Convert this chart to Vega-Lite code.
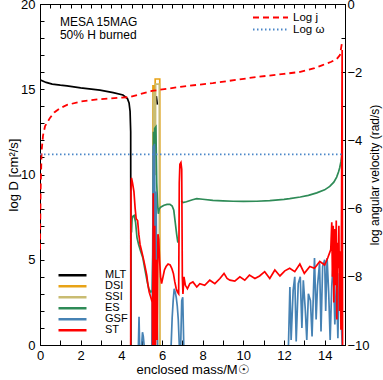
{
  "$schema": "https://vega.github.io/schema/vega-lite/v6.json",
  "width": 305,
  "height": 341,
  "autosize": {"type": "none"},
  "padding": {"left": 40, "top": 4, "right": 38, "bottom": 35},
  "config": {
    "font": "Liberation Sans",
    "view": {"stroke": "black", "strokeWidth": 1},
    "axis": {"domainColor": "black", "tickColor": "black", "labelColor": "black", "titleColor": "black", "labelFontSize": 13, "titleFontSize": 13, "titleFontWeight": "normal", "grid": false, "labelOverlap": false, "labelFlush": false},
    "legend": {"padding": 0, "labelColor": "black", "labelFont": "Liberation Sans"}
  },
  "datasets": {
    "D": [
      {"series": "MLT", "seg": "a", "m": 0, "v": 15.55}, {"series": "MLT", "seg": "a", "m": 0.3, "v": 15.4}, {"series": "MLT", "seg": "a", "m": 0.6, "v": 15.3}, {"series": "MLT", "seg": "a", "m": 1.0, "v": 15.24}, {"series": "MLT", "seg": "a", "m": 1.33, "v": 15.2}, {"series": "MLT", "seg": "a", "m": 2.0, "v": 15.08}, {"series": "MLT", "seg": "a", "m": 2.95, "v": 14.95}, {"series": "MLT", "seg": "a", "m": 3.6, "v": 14.8}, {"series": "MLT", "seg": "a", "m": 4.08, "v": 14.66}, {"series": "MLT", "seg": "a", "m": 4.3, "v": 14.45}, {"series": "MLT", "seg": "a", "m": 4.38, "v": 14.2}, {"series": "MLT", "seg": "a", "m": 4.43, "v": 13.7}, {"series": "MLT", "seg": "a", "m": 4.46, "v": 12.5}, {"series": "MLT", "seg": "a", "m": 4.47, "v": 0},
      {"series": "MLT", "seg": "b", "m": 5.72, "v": 14.6}, {"series": "MLT", "seg": "b", "m": 5.75, "v": 14.3}, {"series": "MLT", "seg": "b", "m": 5.77, "v": 14.1},
      {"series": "DSI", "seg": "a", "m": 5.55, "v": 0}, {"series": "DSI", "seg": "a", "m": 5.555, "v": 15.2}, {"series": "DSI", "seg": "a", "m": 5.625, "v": 15.2}, {"series": "DSI", "seg": "a", "m": 5.63, "v": 11}, {"series": "DSI", "seg": "a", "m": 5.66, "v": 11}, {"series": "DSI", "seg": "a", "m": 5.665, "v": 15.6}, {"series": "DSI", "seg": "a", "m": 5.89, "v": 15.6}, {"series": "DSI", "seg": "a", "m": 5.895, "v": 0},
      {"series": "SSI", "seg": "a", "m": 5.57, "v": 0}, {"series": "SSI", "seg": "a", "m": 5.575, "v": 14.9}, {"series": "SSI", "seg": "a", "m": 5.61, "v": 14.9}, {"series": "SSI", "seg": "a", "m": 5.615, "v": 10}, {"series": "SSI", "seg": "a", "m": 5.68, "v": 10}, {"series": "SSI", "seg": "a", "m": 5.685, "v": 15.3}, {"series": "SSI", "seg": "a", "m": 5.87, "v": 15.3}, {"series": "SSI", "seg": "a", "m": 5.875, "v": 0},
      {"series": "ES", "seg": "a", "m": 4.5, "v": 6.6}, {"series": "ES", "seg": "a", "m": 4.53, "v": 7.4}, {"series": "ES", "seg": "a", "m": 4.57, "v": 7.55}, {"series": "ES", "seg": "a", "m": 4.63, "v": 7.6}, {"series": "ES", "seg": "a", "m": 4.7, "v": 7.2}, {"series": "ES", "seg": "a", "m": 4.77, "v": 6.3}, {"series": "ES", "seg": "a", "m": 4.85, "v": 5.9}, {"series": "ES", "seg": "a", "m": 4.95, "v": 5.5}, {"series": "ES", "seg": "a", "m": 5.06, "v": 5.1}, {"series": "ES", "seg": "a", "m": 5.15, "v": 4.5}, {"series": "ES", "seg": "a", "m": 5.26, "v": 3.8}, {"series": "ES", "seg": "a", "m": 5.35, "v": 3.3}, {"series": "ES", "seg": "a", "m": 5.45, "v": 3.1}, {"series": "ES", "seg": "a", "m": 5.52, "v": 3.2}, {"series": "ES", "seg": "a", "m": 5.56, "v": 6}, {"series": "ES", "seg": "a", "m": 5.58, "v": 12.5}, {"series": "ES", "seg": "a", "m": 5.6, "v": 9}, {"series": "ES", "seg": "a", "m": 5.64, "v": 12.7}, {"series": "ES", "seg": "a", "m": 5.7, "v": 12.8}, {"series": "ES", "seg": "a", "m": 5.74, "v": 9.5}, {"series": "ES", "seg": "a", "m": 5.78, "v": 8.3}, {"series": "ES", "seg": "a", "m": 5.82, "v": 7.7}, {"series": "ES", "seg": "a", "m": 5.87, "v": 8.0}, {"series": "ES", "seg": "a", "m": 5.95, "v": 8.1}, {"series": "ES", "seg": "a", "m": 6.1, "v": 8.2}, {"series": "ES", "seg": "a", "m": 6.25, "v": 8.25}, {"series": "ES", "seg": "a", "m": 6.39, "v": 8.25}, {"series": "ES", "seg": "a", "m": 6.5, "v": 8.15}, {"series": "ES", "seg": "a", "m": 6.58, "v": 7.9}, {"series": "ES", "seg": "a", "m": 6.65, "v": 7.2}, {"series": "ES", "seg": "a", "m": 6.72, "v": 6.5}, {"series": "ES", "seg": "a", "m": 6.78, "v": 6.0},
      {"series": "ES", "seg": "b", "m": 6.95, "v": 8.45}, {"series": "ES", "seg": "b", "m": 7.03, "v": 8.35}, {"series": "ES", "seg": "b", "m": 7.2, "v": 8.4}, {"series": "ES", "seg": "b", "m": 7.5, "v": 8.52}, {"series": "ES", "seg": "b", "m": 7.71, "v": 8.58}, {"series": "ES", "seg": "b", "m": 8.0, "v": 8.55}, {"series": "ES", "seg": "b", "m": 8.5, "v": 8.48}, {"series": "ES", "seg": "b", "m": 9.0, "v": 8.45}, {"series": "ES", "seg": "b", "m": 9.5, "v": 8.43}, {"series": "ES", "seg": "b", "m": 10.0, "v": 8.42}, {"series": "ES", "seg": "b", "m": 10.66, "v": 8.43}, {"series": "ES", "seg": "b", "m": 11.3, "v": 8.47}, {"series": "ES", "seg": "b", "m": 12.0, "v": 8.54}, {"series": "ES", "seg": "b", "m": 12.28, "v": 8.58}, {"series": "ES", "seg": "b", "m": 12.8, "v": 8.68}, {"series": "ES", "seg": "b", "m": 13.2, "v": 8.78}, {"series": "ES", "seg": "b", "m": 13.61, "v": 8.92}, {"series": "ES", "seg": "b", "m": 14.0, "v": 9.1}, {"series": "ES", "seg": "b", "m": 14.25, "v": 9.3}, {"series": "ES", "seg": "b", "m": 14.45, "v": 9.55}, {"series": "ES", "seg": "b", "m": 14.59, "v": 9.85}, {"series": "ES", "seg": "b", "m": 14.68, "v": 10.15}, {"series": "ES", "seg": "b", "m": 14.74, "v": 10.4}, {"series": "ES", "seg": "b", "m": 14.8, "v": 10.75}, {"series": "ES", "seg": "b", "m": 14.84, "v": 11.1}, {"series": "ES", "seg": "b", "m": 14.86, "v": 11.3},
      {"series": "GSF", "seg": "a", "m": 4.84, "v": 0}, {"series": "GSF", "seg": "a", "m": 4.87, "v": 1.65}, {"series": "GSF", "seg": "a", "m": 4.9, "v": 0},
      {"series": "GSF", "seg": "b", "m": 5.0, "v": 0}, {"series": "GSF", "seg": "b", "m": 5.04, "v": 0.75}, {"series": "GSF", "seg": "b", "m": 5.08, "v": 0.5}, {"series": "GSF", "seg": "b", "m": 5.12, "v": 0},
      {"series": "GSF", "seg": "c", "m": 5.5, "v": 0}, {"series": "GSF", "seg": "c", "m": 5.54, "v": 5}, {"series": "GSF", "seg": "c", "m": 5.57, "v": 11.7}, {"series": "GSF", "seg": "c", "m": 5.6, "v": 7}, {"series": "GSF", "seg": "c", "m": 5.63, "v": 11.8}, {"series": "GSF", "seg": "c", "m": 5.67, "v": 4}, {"series": "GSF", "seg": "c", "m": 5.71, "v": 9}, {"series": "GSF", "seg": "c", "m": 5.75, "v": 2}, {"series": "GSF", "seg": "c", "m": 5.78, "v": 0},
      {"series": "GSF", "seg": "d", "m": 6.45, "v": 0}, {"series": "GSF", "seg": "d", "m": 6.5, "v": 1.6}, {"series": "GSF", "seg": "d", "m": 6.55, "v": 2.6}, {"series": "GSF", "seg": "d", "m": 6.6, "v": 3.3}, {"series": "GSF", "seg": "d", "m": 6.65, "v": 3.1}, {"series": "GSF", "seg": "d", "m": 6.7, "v": 2.8}, {"series": "GSF", "seg": "d", "m": 6.75, "v": 2.3}, {"series": "GSF", "seg": "d", "m": 6.8, "v": 1.5}, {"series": "GSF", "seg": "d", "m": 6.85, "v": 0},
      {"series": "GSF", "seg": "e", "m": 6.92, "v": 0}, {"series": "GSF", "seg": "e", "m": 6.97, "v": 2.6}, {"series": "GSF", "seg": "e", "m": 7.02, "v": 2.8}, {"series": "GSF", "seg": "e", "m": 7.07, "v": 0},
      {"series": "GSF", "seg": "f", "m": 12.22, "v": 0}, {"series": "GSF", "seg": "f", "m": 12.29, "v": 3.4}, {"series": "GSF", "seg": "f", "m": 12.35, "v": 0.3}, {"series": "GSF", "seg": "f", "m": 12.45, "v": 3.2}, {"series": "GSF", "seg": "f", "m": 12.53, "v": 4.0}, {"series": "GSF", "seg": "f", "m": 12.6, "v": 0.2}, {"series": "GSF", "seg": "f", "m": 12.7, "v": 3.6}, {"series": "GSF", "seg": "f", "m": 12.8, "v": 4.0}, {"series": "GSF", "seg": "f", "m": 12.88, "v": 1.0}, {"series": "GSF", "seg": "f", "m": 12.95, "v": 3.8}, {"series": "GSF", "seg": "f", "m": 13.05, "v": 2.0}, {"series": "GSF", "seg": "f", "m": 13.12, "v": 0.3}, {"series": "GSF", "seg": "f", "m": 13.2, "v": 3.0}, {"series": "GSF", "seg": "f", "m": 13.3, "v": 2.6}, {"series": "GSF", "seg": "f", "m": 13.38, "v": 0.5}, {"series": "GSF", "seg": "f", "m": 13.5, "v": 5.1}, {"series": "GSF", "seg": "f", "m": 13.58, "v": 1.5}, {"series": "GSF", "seg": "f", "m": 13.65, "v": 3.5}, {"series": "GSF", "seg": "f", "m": 13.75, "v": 4.8}, {"series": "GSF", "seg": "f", "m": 13.82, "v": 0.8}, {"series": "GSF", "seg": "f", "m": 13.9, "v": 4.6}, {"series": "GSF", "seg": "f", "m": 14.0, "v": 5.0}, {"series": "GSF", "seg": "f", "m": 14.05, "v": 2.0}, {"series": "GSF", "seg": "f", "m": 14.12, "v": 5.1}, {"series": "GSF", "seg": "f", "m": 14.2, "v": 3.0}, {"series": "GSF", "seg": "f", "m": 14.27, "v": 0.3}, {"series": "GSF", "seg": "f", "m": 14.35, "v": 3.5}, {"series": "GSF", "seg": "f", "m": 14.42, "v": 4.8}, {"series": "GSF", "seg": "f", "m": 14.5, "v": 1.2}, {"series": "GSF", "seg": "f", "m": 14.58, "v": 3.8}, {"series": "GSF", "seg": "f", "m": 14.65, "v": 0.4}, {"series": "GSF", "seg": "f", "m": 14.72, "v": 4.2}, {"series": "GSF", "seg": "f", "m": 14.8, "v": 2.0}, {"series": "GSF", "seg": "f", "m": 14.86, "v": 0},
      {"series": "ST", "seg": "a", "m": 4.46, "v": 0}, {"series": "ST", "seg": "a", "m": 4.47, "v": 9.0}, {"series": "ST", "seg": "a", "m": 4.5, "v": 9.8}, {"series": "ST", "seg": "a", "m": 4.55, "v": 9.5}, {"series": "ST", "seg": "a", "m": 4.62, "v": 9.0}, {"series": "ST", "seg": "a", "m": 4.68, "v": 8.0}, {"series": "ST", "seg": "a", "m": 4.73, "v": 7.4}, {"series": "ST", "seg": "a", "m": 4.8, "v": 7.3}, {"series": "ST", "seg": "a", "m": 4.86, "v": 6.5}, {"series": "ST", "seg": "a", "m": 4.92, "v": 5.9}, {"series": "ST", "seg": "a", "m": 5.0, "v": 5.5}, {"series": "ST", "seg": "a", "m": 5.06, "v": 5.2}, {"series": "ST", "seg": "a", "m": 5.15, "v": 4.7}, {"series": "ST", "seg": "a", "m": 5.25, "v": 4.1}, {"series": "ST", "seg": "a", "m": 5.3, "v": 3.6}, {"series": "ST", "seg": "a", "m": 5.37, "v": 3.1}, {"series": "ST", "seg": "a", "m": 5.45, "v": 2.8}, {"series": "ST", "seg": "a", "m": 5.52, "v": 2.5}, {"series": "ST", "seg": "a", "m": 5.54, "v": 0}, {"series": "ST", "seg": "a", "m": 5.57, "v": 8.9}, {"series": "ST", "seg": "a", "m": 5.6, "v": 0}, {"series": "ST", "seg": "a", "m": 5.64, "v": 7}, {"series": "ST", "seg": "a", "m": 5.68, "v": 0}, {"series": "ST", "seg": "a", "m": 5.72, "v": 5}, {"series": "ST", "seg": "a", "m": 5.76, "v": 0.3}, {"series": "ST", "seg": "a", "m": 5.8, "v": 6.5}, {"series": "ST", "seg": "a", "m": 5.84, "v": 6.2}, {"series": "ST", "seg": "a", "m": 5.88, "v": 5.0}, {"series": "ST", "seg": "a", "m": 5.93, "v": 4.0}, {"series": "ST", "seg": "a", "m": 5.98, "v": 3.6}, {"series": "ST", "seg": "a", "m": 6.05, "v": 4.0}, {"series": "ST", "seg": "a", "m": 6.12, "v": 4.4}, {"series": "ST", "seg": "a", "m": 6.2, "v": 4.6}, {"series": "ST", "seg": "a", "m": 6.3, "v": 4.75}, {"series": "ST", "seg": "a", "m": 6.4, "v": 4.7}, {"series": "ST", "seg": "a", "m": 6.48, "v": 4.5}, {"series": "ST", "seg": "a", "m": 6.56, "v": 4.2}, {"series": "ST", "seg": "a", "m": 6.63, "v": 3.7}, {"series": "ST", "seg": "a", "m": 6.7, "v": 3.3}, {"series": "ST", "seg": "a", "m": 6.76, "v": 3.1}, {"series": "ST", "seg": "a", "m": 6.82, "v": 3.0}, {"series": "ST", "seg": "a", "m": 6.85, "v": 9.5}, {"series": "ST", "seg": "a", "m": 6.88, "v": 10.6}, {"series": "ST", "seg": "a", "m": 6.93, "v": 10.7}, {"series": "ST", "seg": "a", "m": 6.97, "v": 10.3}, {"series": "ST", "seg": "a", "m": 7.0, "v": 4.0}, {"series": "ST", "seg": "a", "m": 7.03, "v": 3.0}, {"series": "ST", "seg": "a", "m": 7.08, "v": 4.0}, {"series": "ST", "seg": "a", "m": 7.15, "v": 3.5}, {"series": "ST", "seg": "a", "m": 7.25, "v": 3.3}, {"series": "ST", "seg": "a", "m": 7.37, "v": 3.6}, {"series": "ST", "seg": "a", "m": 7.52, "v": 3.7}, {"series": "ST", "seg": "a", "m": 7.71, "v": 3.4}, {"series": "ST", "seg": "a", "m": 7.86, "v": 3.6}, {"series": "ST", "seg": "a", "m": 8.1, "v": 3.5}, {"series": "ST", "seg": "a", "m": 8.35, "v": 3.8}, {"series": "ST", "seg": "a", "m": 8.6, "v": 3.6}, {"series": "ST", "seg": "a", "m": 8.85, "v": 3.9}, {"series": "ST", "seg": "a", "m": 9.05, "v": 4.2}, {"series": "ST", "seg": "a", "m": 9.2, "v": 3.9}, {"series": "ST", "seg": "a", "m": 9.34, "v": 3.8}, {"series": "ST", "seg": "a", "m": 9.58, "v": 3.75}, {"series": "ST", "seg": "a", "m": 9.83, "v": 4.0}, {"series": "ST", "seg": "a", "m": 10.07, "v": 3.8}, {"series": "ST", "seg": "a", "m": 10.3, "v": 4.1}, {"series": "ST", "seg": "a", "m": 10.57, "v": 3.9}, {"series": "ST", "seg": "a", "m": 10.8, "v": 4.05}, {"series": "ST", "seg": "a", "m": 11.05, "v": 4.3}, {"series": "ST", "seg": "a", "m": 11.3, "v": 3.9}, {"series": "ST", "seg": "a", "m": 11.55, "v": 4.4}, {"series": "ST", "seg": "a", "m": 11.8, "v": 4.05}, {"series": "ST", "seg": "a", "m": 12.04, "v": 4.35}, {"series": "ST", "seg": "a", "m": 12.28, "v": 4.5}, {"series": "ST", "seg": "a", "m": 12.53, "v": 4.3}, {"series": "ST", "seg": "a", "m": 12.78, "v": 4.75}, {"series": "ST", "seg": "a", "m": 13.0, "v": 4.2}, {"series": "ST", "seg": "a", "m": 13.27, "v": 4.6}, {"series": "ST", "seg": "a", "m": 13.5, "v": 4.5}, {"series": "ST", "seg": "a", "m": 13.76, "v": 4.9}, {"series": "ST", "seg": "a", "m": 14.0, "v": 4.7}, {"series": "ST", "seg": "a", "m": 14.15, "v": 5.1}, {"series": "ST", "seg": "a", "m": 14.3, "v": 5.6}, {"series": "ST", "seg": "a", "m": 14.35, "v": 7.2}, {"series": "ST", "seg": "a", "m": 14.38, "v": 4.0}, {"series": "ST", "seg": "a", "m": 14.42, "v": 7.0}, {"series": "ST", "seg": "a", "m": 14.45, "v": 2.5}, {"series": "ST", "seg": "a", "m": 14.5, "v": 6.8}, {"series": "ST", "seg": "a", "m": 14.53, "v": 3.5}, {"series": "ST", "seg": "a", "m": 14.57, "v": 7.3}, {"series": "ST", "seg": "a", "m": 14.6, "v": 1.5}, {"series": "ST", "seg": "a", "m": 14.63, "v": 6.0}, {"series": "ST", "seg": "a", "m": 14.67, "v": 4.5}, {"series": "ST", "seg": "a", "m": 14.7, "v": 7.0}, {"series": "ST", "seg": "a", "m": 14.73, "v": 2.0}, {"series": "ST", "seg": "a", "m": 14.77, "v": 5.5}, {"series": "ST", "seg": "a", "m": 14.8, "v": 0.9}, {"series": "ST", "seg": "a", "m": 14.83, "v": 8.0}, {"series": "ST", "seg": "a", "m": 14.86, "v": 17.3}, {"series": "ST", "seg": "a", "m": 14.88, "v": 0}
    ],
    "W": [
      {"series": "Log j", "m": 0, "lw": -7.2}, {"series": "Log j", "m": 0.03, "lw": -5.5}, {"series": "Log j", "m": 0.08, "lw": -4.3}, {"series": "Log j", "m": 0.15, "lw": -3.85}, {"series": "Log j", "m": 0.25, "lw": -3.58}, {"series": "Log j", "m": 0.49, "lw": -3.34}, {"series": "Log j", "m": 0.7, "lw": -3.18}, {"series": "Log j", "m": 1.0, "lw": -3.05}, {"series": "Log j", "m": 1.33, "lw": -2.96}, {"series": "Log j", "m": 2.0, "lw": -2.86}, {"series": "Log j", "m": 2.95, "lw": -2.79}, {"series": "Log j", "m": 4.4, "lw": -2.73}, {"series": "Log j", "m": 5.5, "lw": -2.55}, {"series": "Log j", "m": 7.0, "lw": -2.42}, {"series": "Log j", "m": 8.5, "lw": -2.32}, {"series": "Log j", "m": 10.66, "lw": -2.14}, {"series": "Log j", "m": 12.0, "lw": -2.05}, {"series": "Log j", "m": 12.8, "lw": -1.99}, {"series": "Log j", "m": 13.5, "lw": -1.88}, {"series": "Log j", "m": 13.9, "lw": -1.79}, {"series": "Log j", "m": 14.3, "lw": -1.7}, {"series": "Log j", "m": 14.6, "lw": -1.61}, {"series": "Log j", "m": 14.75, "lw": -1.5}, {"series": "Log j", "m": 14.85, "lw": -1.14},
      {"series": "Log ω", "m": 0, "lw": -4.41}, {"series": "Log ω", "m": 14.85, "lw": -4.41}
    ]
  },
  "layer": [
    {
      "layer": [
        {
          "data": {"name": "D"},
          "mark": {"type": "line", "strokeWidth": 1.7, "clip": true},
          "encoding": {
            "x": {"field": "m", "type": "quantitative", "title": "enclosed mass/M☉",
              "scale": {"domain": [0, 15], "nice": false, "zero": false},
              "axis": {"orient": "bottom", "values": [0,0.5,1,1.5,2,2.5,3,3.5,4,4.5,5,5.5,6,6.5,7,7.5,8,8.5,9,9.5,10,10.5,11,11.5,12,12.5,13,13.5,14,14.5,15],
                "format": "d", "labelExpr": "datum.value % 2 === 0 ? datum.label : ''", "labelOverlap": false,
                "tickSize": 5, "offset": -5, "domain": false,
                "labelPadding": 4, "titlePadding": 1}},
            "y": {"field": "v", "type": "quantitative", "title": "log D [cm²/s]",
              "scale": {"domain": [0, 20], "nice": false},
              "axis": {"orient": "left", "values": [0,1,2,3,4,5,6,7,8,9,10,11,12,13,14,15,16,17,18,19,20],
                "labelExpr": "datum.value % 5 === 0 ? datum.label : ''", "labelOverlap": false,
                "tickSize": -4,
                "labelPadding": 9, "titlePadding": 0}},
            "color": {"field": "series", "type": "nominal",
              "scale": {"domain": ["MLT", "DSI", "SSI", "ES", "GSF", "ST"], "range": ["#000000", "#E8A317", "#C9BC72", "#2E8B57", "#4682B4", "#FF0000"]},
              "legend": {"orient": "none", "legendX": 17, "legendY": 267, "title": null, "symbolSize": 784, "clipHeight": 8.6, "rowPadding": -1, "labelFontSize": 11, "labelOffset": 17, "symbolStrokeWidth": 2.5}},
            "detail": {"field": "seg"}
          }
        },
        {
          "data": {"values": [{"m": 0.98, "v": 18.94, "label": "MESA 15MAG"}, {"m": 0.98, "v": 18.18, "label": "50% H burned"}]},
          "mark": {"type": "text", "align": "left", "baseline": "middle", "fontSize": 12, "color": "black"},
          "encoding": {
            "x": {"field": "m", "type": "quantitative", "title": "enclosed mass/M☉",
              "axis": {"orient": "bottom", "values": [0,0.5,1,1.5,2,2.5,3,3.5,4,4.5,5,5.5,6,6.5,7,7.5,8,8.5,9,9.5,10,10.5,11,11.5,12,12.5,13,13.5,14,14.5,15],
                "format": "d", "labelExpr": "datum.value % 2 === 0 ? datum.label : ''", "labelOverlap": false,
                "tickSize": 5, "offset": -5, "domain": false,
                "labelPadding": 4, "titlePadding": 1}},
            "y": {"field": "v", "type": "quantitative", "title": "log D [cm²/s]",
              "axis": {"orient": "left", "values": [0,1,2,3,4,5,6,7,8,9,10,11,12,13,14,15,16,17,18,19,20],
                "labelExpr": "datum.value % 5 === 0 ? datum.label : ''", "labelOverlap": false,
                "tickSize": -4,
                "labelPadding": 9, "titlePadding": 0}},
            "text": {"field": "label"}
          }
        }
      ]
    },
    {
      "data": {"name": "W"},
      "mark": {"type": "line", "strokeWidth": 1.8, "clip": true},
      "encoding": {
        "x": {"field": "m", "type": "quantitative", "title": "enclosed mass/M☉",
          "scale": {"domain": [0, 15], "nice": false, "zero": false},
          "axis": {"orient": "top", "title": null, "labels": false, "values": [0,0.5,1,1.5,2,2.5,3,3.5,4,4.5,5,5.5,6,6.5,7,7.5,8,8.5,9,9.5,10,10.5,11,11.5,12,12.5,13,13.5,14,14.5,15],
            "tickSize": -4}},
        "y": {"field": "lw", "type": "quantitative", "title": "log angular velocity (rad/s)",
          "scale": {"domain": [-10, 0], "nice": false, "zero": false},
          "axis": {"orient": "right", "values": [-10,-9.5,-9,-8.5,-8,-7.5,-7,-6.5,-6,-5.5,-5,-4.5,-4,-3.5,-3,-2.5,-2,-1.5,-1,-0.5,0],
            "format": "d", "labelExpr": "datum.value % 2 === 0 ? datum.label : ''", "labelOverlap": false,
            "tickSize": -4,
            "labelPadding": 6, "titlePadding": 0, "titleFontSize": 12, "titleAngle": 270, "titleBaseline": "top"}},
        "color": {"field": "series", "type": "nominal",
          "scale": {"domain": ["Log j", "Log ω"], "range": ["#FF0000", "#4A86C8"]},
          "legend": {"orient": "none", "legendX": 212, "legendY": 8, "title": null, "symbolSize": 1225, "clipHeight": 11, "rowPadding": 0, "labelFontSize": 11.5, "symbolStrokeWidth": 2}},
        "strokeDash": {"field": "series", "type": "nominal",
          "scale": {"domain": ["Log j", "Log ω"], "range": [[6, 4], [1.5, 2.5]]},
          "legend": {"orient": "none", "legendX": 212, "legendY": 8, "title": null, "symbolSize": 1225, "clipHeight": 11, "rowPadding": 0, "labelFontSize": 11.5, "symbolStrokeWidth": 2}}
      }
    }
  ],
  "resolve": {"scale": {"y": "independent", "color": "independent", "strokeDash": "independent"}, "axis": {"x": "independent"}}
}
